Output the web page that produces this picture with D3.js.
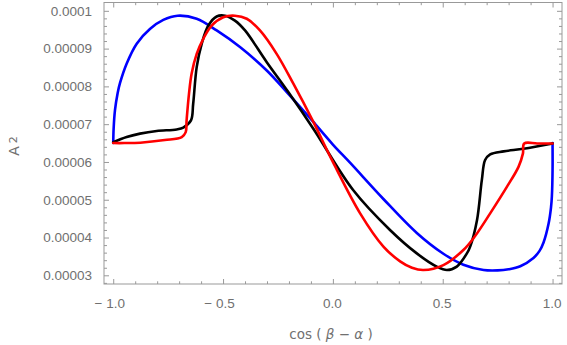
<!DOCTYPE html>
<html>
<head>
<meta charset="utf-8">
<script src="https://cdn.jsdelivr.net/npm/d3@7"></script>
<style>
  body { margin: 0; background: #fff; }
  svg { display: block; font-family: "DejaVu Sans", sans-serif; }
</style>
</head>
<body>
<script>
// values, A2 in units of 1e-5
let blueX = [-1, -0.998, -0.992, -0.98, -0.969, -0.939, -0.893, -0.833, -0.772, -0.707, -0.62, -0.529, -0.423, -0.301, -0.21, -0.119, -0.089, 0, 0.078, 0.23, 0.382, 0.503, 0.594, 0.686, 0.75, 0.8, 0.853, 0.913, 0.94, 0.959, 0.982, 0.993, 0.997, 1.0, 1.0];
let blueY = [6.50, 6.90, 7.37, 7.82, 8.09, 8.60, 9.13, 9.52, 9.76, 9.87, 9.79, 9.48, 9.04, 8.42, 7.85, 7.26, 7.06, 6.46, 5.98, 5.02, 4.12, 3.57, 3.28, 3.14, 3.13, 3.16, 3.24, 3.46, 3.64, 3.87, 4.37, 4.80, 5.10, 5.78, 6.50];

let blackX = [-1.0, -0.939, -0.878, -0.802, -0.711, -0.681, -0.646, -0.636, -0.62, -0.597, -0.567, -0.529, -0.491, -0.446, -0.4, -0.301, -0.203, -0.089, 0.093, 0.26, 0.382, 0.473, 0.519, 0.564, 0.61, 0.625, 0.656, 0.678, 0.693, 0.716, 0.777, 0.868, 1.0];
let blackY = [6.52, 6.66, 6.75, 6.82, 6.86, 6.91, 7.10, 7.54, 8.51, 9.13, 9.61, 9.85, 9.87, 9.74, 9.48, 8.64, 7.85, 6.88, 5.25, 4.20, 3.58, 3.23, 3.14, 3.23, 3.58, 3.76, 4.46, 5.52, 6.05, 6.20, 6.28, 6.35, 6.49];

let redX = [-1.0, -0.95, -0.877, -0.765, -0.688, -0.67, -0.666, -0.655, -0.643, -0.62, -0.59, -0.552, -0.499, -0.446, -0.392, -0.332, -0.256, -0.18, -0.089, 0.0, 0.124, 0.23, 0.306, 0.36, 0.412, 0.503, 0.594, 0.645, 0.716, 0.792, 0.845, 0.865, 0.871, 0.93, 1.0];
let redY = [6.50, 6.50, 6.51, 6.58, 6.66, 6.79, 7.10, 7.81, 8.34, 8.86, 9.26, 9.61, 9.83, 9.87, 9.79, 9.48, 8.86, 8.07, 7.06, 6.00, 4.64, 3.76, 3.37, 3.20, 3.14, 3.27, 3.67, 4.02, 4.64, 5.34, 5.87, 6.22, 6.49, 6.49, 6.49];

let xTicks = [-1, -0.5, 0, 0.5, 1];
let xTickLabels = ['\u2212 1.0', '\u2212 0.5', '0.0', '0.5', '1.0'];
let yTicks = [0.00003, 0.00004, 0.00005, 0.00006, 0.00007, 0.00008, 0.00009, 0.0001];
let yTickLabels = ['0.00003', '0.00004', '0.00005', '0.00006', '0.00007', '0.00008', '0.00009', '0.0001'];

//chart constants
let totalWidth = 567;
let totalHeight = 345;
let frame = { left: 104, right: 562, top: 2.5, bottom: 284 };
let labelColor = '#707070';
let frameColor = '#999';

let xScale = d3.scaleLinear()
    .domain([-1.042, 1.043])
    .range([frame.left, frame.right]);

let yScale = d3.scaleLinear()
    .domain([0.0000277, 0.0001022])
    .range([frame.bottom, frame.top]);

let svg = d3.select('body')
    .append('svg')
    .attr('width', totalWidth)
    .attr('height', totalHeight);

//minor tick positions
let xMinor = d3.range(-10, 11).map(function(d){ return d / 10; }).filter(function(d){ return Math.abs(d * 2 - Math.round(d * 2)) > 1e-9; });
let yMinor = d3.range(14, 51).map(function(d){ return d * 2e-6; }).filter(function(d){ return Math.abs(d * 1e5 - Math.round(d * 1e5)) > 1e-6; });

function styleAxis(g){
    g.select('.domain').remove();
    g.selectAll('.tick line').attr('stroke', frameColor);
    g.selectAll('.tick text').attr('fill', labelColor).style('font-size', '13.5px');
}

//bottom axis with labels
svg.append('g')
    .attr('transform', `translate(0, ${frame.bottom})`)
    .call(d3.axisBottom(xScale).tickValues(xTicks).tickSize(-5).tickPadding(14)
        .tickFormat(function(d, i){ return xTickLabels[i]; }))
    .call(styleAxis)
    .selectAll('.tick text')
    .attr('dx', function(d){ return d < 0 ? -4 : -1; });

svg.append('g')
    .attr('transform', `translate(0, ${frame.bottom})`)
    .call(d3.axisBottom(xScale).tickValues(xMinor).tickSize(-2.7).tickFormat(''))
    .call(styleAxis);

//top axis
svg.append('g')
    .attr('transform', `translate(0, ${frame.top})`)
    .call(d3.axisTop(xScale).tickValues(xTicks).tickSize(-5).tickFormat(''))
    .call(styleAxis);
svg.append('g')
    .attr('transform', `translate(0, ${frame.top})`)
    .call(d3.axisTop(xScale).tickValues(xMinor).tickSize(-2.7).tickFormat(''))
    .call(styleAxis);

//left axis with labels
svg.append('g')
    .attr('transform', `translate(${frame.left}, 0)`)
    .call(d3.axisLeft(yScale).tickValues(yTicks).tickSize(-5).tickPadding(12)
        .tickFormat(function(d, i){ return yTickLabels[i]; }))
    .call(styleAxis);
svg.append('g')
    .attr('transform', `translate(${frame.left}, 0)`)
    .call(d3.axisLeft(yScale).tickValues(yMinor).tickSize(-3).tickFormat(''))
    .call(styleAxis);

//right axis
svg.append('g')
    .attr('transform', `translate(${frame.right}, 0)`)
    .call(d3.axisRight(yScale).tickValues(yTicks).tickSize(-5).tickFormat(''))
    .call(styleAxis);
svg.append('g')
    .attr('transform', `translate(${frame.right}, 0)`)
    .call(d3.axisRight(yScale).tickValues(yMinor).tickSize(-3).tickFormat(''))
    .call(styleAxis);

//frame
svg.append('rect')
    .attr('x', frame.left)
    .attr('y', frame.top)
    .attr('width', frame.right - frame.left)
    .attr('height', frame.bottom - frame.top)
    .attr('fill', 'none')
    .attr('stroke', frameColor)
    .attr('stroke-width', 1);

//curves
let line = d3.line()
    .x(function(d){ return xScale(d[0]); })
    .y(function(d){ return yScale(d[1] * 1e-5); })
    .curve(d3.curveCatmullRom.alpha(0.5));

let series = [
    { xs: blueX, ys: blueY, color: '#0000ff' },
    { xs: blackX, ys: blackY, color: '#000000' },
    { xs: redX, ys: redY, color: '#ff0000' }
];

for (let i=0; i<series.length; i++){
    let pts = series[i].xs.map(function(x, j){ return [x, series[i].ys[j]]; });
    svg.append('path')
        .datum(pts)
        .attr('d', line)
        .attr('fill', 'none')
        .attr('stroke', series[i].color)
        .attr('stroke-width', 2.6)
        .attr('stroke-linejoin', 'round')
        .attr('stroke-linecap', 'round');
}

//axis titles
let xTitle = svg.append('text')
    .attr('x', 331)
    .attr('y', 339)
    .attr('text-anchor', 'middle')
    .attr('fill', labelColor)
    .style('font-size', '13.5px');
xTitle.append('tspan').text('cos ( ');
xTitle.append('tspan').style('font-style', 'italic').text('\u03B2');
xTitle.append('tspan').text(' \u2212 ');
xTitle.append('tspan').style('font-style', 'italic').text('\u03B1');
xTitle.append('tspan').text(' )');

let yTitle = svg.append('text')
    .attr('transform', 'translate(18.5, 146) rotate(-90)')
    .attr('text-anchor', 'middle')
    .attr('fill', labelColor)
    .style('font-size', '14px');
yTitle.append('tspan').text('A');
yTitle.append('tspan').attr('dx', 3).attr('dy', -2).style('font-size', '11px').text('2');
</script>
</body>
</html>
